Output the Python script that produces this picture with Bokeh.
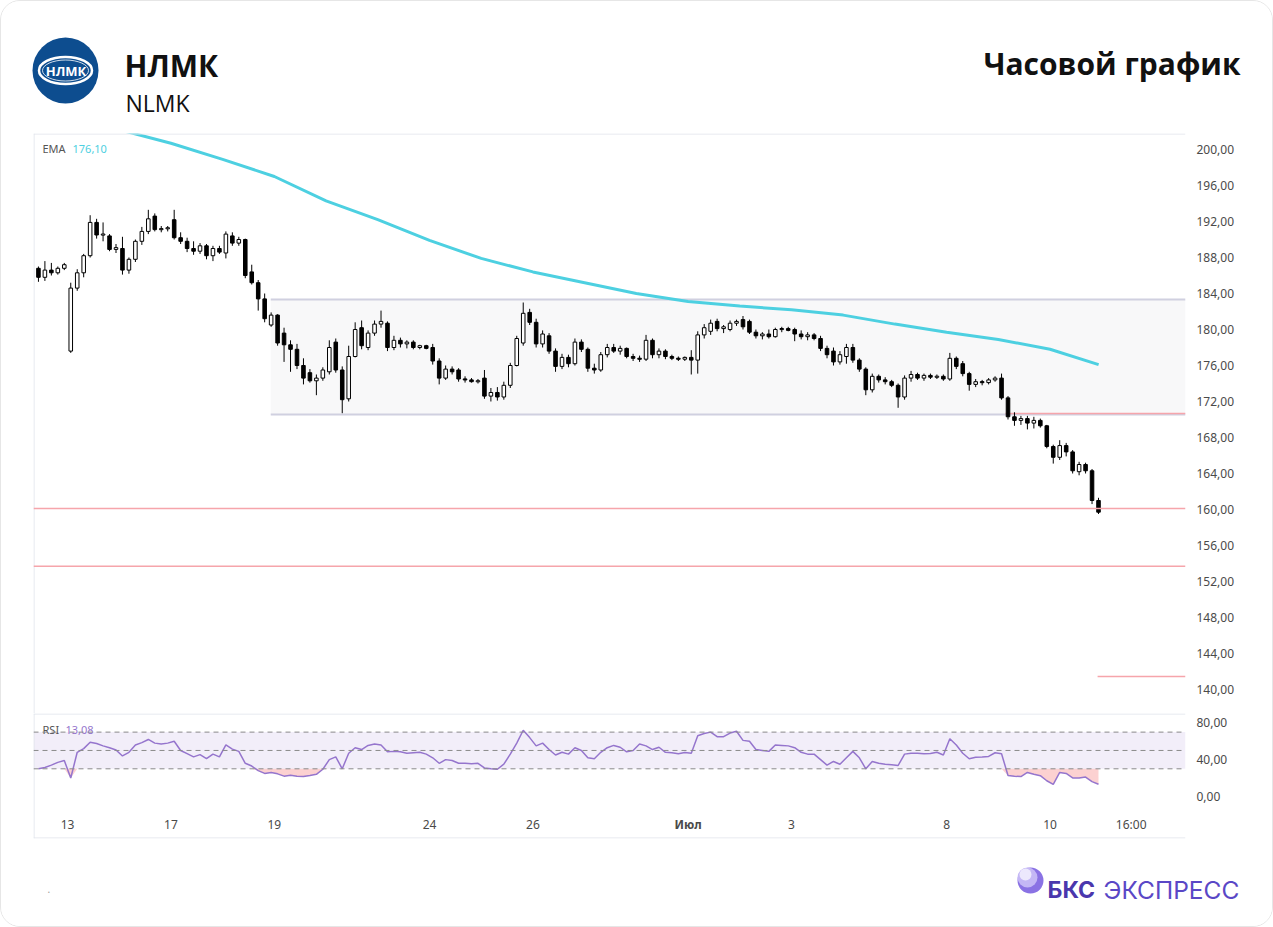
import numpy as np
from bokeh.plotting import figure
from bokeh.models import Range1d, FixedTicker, Span, ColumnDataSource
from bokeh.layouts import column
from bokeh.embed import file_html
from bokeh.resources import INLINE
from bokeh.core.properties import value

# ---------------- data ----------------
title_ru = "НЛМК"
title_en = "NLMK"
chart_kind = "Часовой график"

bars_per_day = 8          # aggregated hourly candles per session
first_day_bars = 5        # bars of the partial session before June 13

opens = [186.8, 185.8, 186.6, 186.3, 186.8, 177.6, 184.6, 186.3, 188.2, 191.9,
         190.5, 190.4, 188.9, 189.0, 186.6, 187.8, 189.8, 190.9, 192.6, 191.1,
         191.2, 192.2, 190.2, 189.8, 189.0, 188.7, 189.3, 188.2, 189.0, 188.5,
         190.4, 189.6, 190.0, 186.4, 185.2, 183.4, 180.5, 181.6, 179.6, 178.3,
         177.8, 176.0, 175.2, 174.3, 174.6, 175.3, 178.6, 175.5, 172.3, 177.0,
         180.2, 178.0, 179.6, 180.6, 180.7, 178.0, 178.8, 178.4, 178.6, 178.0,
         178.2, 178.0, 176.5, 174.6, 175.6, 175.5, 174.5, 174.4, 174.2, 174.6,
         172.6, 173.0, 172.5, 173.8, 176.0, 178.5, 181.9, 180.8, 178.4, 179.3,
         177.6, 175.9, 176.9, 176.2, 178.6, 177.8, 175.7, 175.5, 177.2, 178.0,
         177.6, 177.9, 177.0, 176.8, 176.7, 178.8, 177.2, 177.6, 177.0, 176.8,
         176.7, 176.9, 176.6, 179.4, 179.8, 180.9, 180.1, 180.0, 180.7, 181.1,
         180.9, 179.7, 179.3, 179.5, 179.2, 180.0, 180.1, 180.0, 179.5, 179.2,
         179.4, 179.0, 177.9, 177.6, 176.4, 177.0, 178.0, 176.6, 175.6, 173.3,
         174.8, 174.4, 174.2, 173.8, 172.5, 174.6, 175.0, 174.6, 174.9, 174.7,
         174.8, 174.5, 176.8, 176.2, 175.1, 173.9, 174.2, 174.1, 174.4, 174.6,
         172.4, 170.3, 169.9, 170.1, 169.6, 169.9, 169.3, 167.0, 165.8, 167.1,
         166.4, 164.2, 165.0, 164.3, 161.0]
highs = [187.0, 187.6, 187.4, 187.0, 187.4, 185.2, 186.7, 188.4, 192.7, 192.3,
         191.9, 190.6, 189.5, 190.3, 188.0, 190.0, 191.4, 193.3, 192.9, 191.5,
         191.5, 193.3, 190.8, 190.2, 189.8, 189.6, 189.5, 189.3, 189.3, 190.9,
         190.8, 190.3, 190.1, 187.2, 185.5, 184.0, 181.9, 181.7, 180.2, 178.8,
         178.4, 176.8, 175.6, 175.0, 175.8, 178.8, 179.0, 175.9, 178.2, 180.8,
         181.0, 179.9, 181.0, 182.1, 180.9, 179.3, 179.1, 178.8, 178.8, 178.3,
         178.3, 178.4, 176.8, 176.0, 175.9, 175.7, 174.8, 174.6, 174.5, 175.5,
         173.5, 173.6, 174.2, 176.3, 179.3, 183.0, 182.3, 181.2, 179.9, 179.6,
         177.9, 177.3, 177.2, 179.0, 178.9, 178.0, 176.2, 177.5, 178.4, 178.4,
         178.2, 178.0, 177.3, 177.1, 179.4, 179.0, 177.9, 177.8, 177.2, 177.0,
         177.0, 177.7, 179.8, 180.6, 181.1, 181.2, 180.5, 181.0, 181.1, 181.5,
         181.1, 180.0, 179.7, 180.0, 180.2, 180.3, 180.3, 180.2, 179.9, 179.7,
         179.6, 179.3, 178.2, 178.0, 177.6, 178.4, 178.4, 176.8, 175.8, 175.1,
         175.0, 174.7, 174.4, 174.0, 174.9, 175.4, 175.2, 175.1, 175.1, 175.0,
         175.0, 177.4, 177.0, 176.5, 175.3, 174.5, 174.4, 174.6, 174.8, 175.1,
         172.6, 170.8, 170.4, 170.4, 170.3, 170.1, 169.4, 167.2, 167.7, 167.4,
         166.6, 165.3, 165.2, 164.5, 161.3]
lows = [185.3, 185.4, 186.0, 186.1, 186.6, 177.4, 184.3, 185.8, 188.0, 190.1,
        189.8, 188.7, 188.5, 186.1, 186.2, 187.5, 189.4, 190.6, 190.9, 190.8,
        190.9, 190.0, 189.5, 188.6, 188.3, 188.4, 187.8, 187.6, 188.4, 187.9,
        189.3, 189.3, 185.7, 185.0, 182.1, 180.8, 180.3, 178.2, 176.4, 175.3,
        175.6, 173.9, 174.1, 172.7, 174.3, 175.0, 175.2, 170.7, 172.0, 176.9,
        177.8, 177.7, 179.3, 180.2, 177.6, 177.7, 178.0, 177.9, 177.8, 177.8,
        177.8, 176.1, 173.9, 174.4, 175.0, 174.2, 174.1, 174.1, 174.0, 172.3,
        172.0, 172.1, 172.2, 173.5, 175.9, 178.2, 180.5, 178.0, 178.0, 177.3,
        175.3, 175.6, 175.8, 176.0, 177.5, 175.3, 175.1, 175.3, 176.9, 177.4,
        177.2, 176.8, 176.5, 176.4, 176.5, 176.8, 176.8, 176.7, 176.6, 176.5,
        176.5, 175.0, 175.1, 179.0, 179.4, 179.8, 179.6, 179.8, 180.4, 180.0,
        179.5, 179.0, 178.9, 179.0, 179.1, 179.7, 179.8, 178.7, 178.9, 178.8,
        178.8, 177.6, 176.8, 176.0, 176.1, 176.2, 176.3, 175.3, 172.7, 173.0,
        174.1, 173.9, 173.6, 171.3, 172.2, 174.2, 174.4, 174.3, 174.5, 174.5,
        174.3, 174.3, 175.6, 174.8, 173.2, 173.6, 173.8, 173.9, 174.2, 172.2,
        170.0, 169.3, 169.4, 168.9, 169.0, 169.1, 166.8, 165.1, 165.5, 165.9,
        164.0, 163.8, 164.0, 160.6, 159.5]
closes = [185.8, 186.6, 186.3, 186.8, 187.2, 184.6, 186.3, 188.2, 191.9, 190.5,
          190.6, 188.9, 189.1, 186.6, 187.8, 189.8, 190.9, 192.3, 191.1, 191.2,
          191.3, 190.2, 189.8, 189.0, 188.7, 189.3, 188.2, 189.0, 188.6, 190.6,
          189.6, 190.0, 186.0, 185.2, 183.4, 181.2, 181.6, 178.5, 178.3, 177.8,
          176.0, 174.6, 174.3, 174.6, 175.5, 178.0, 175.5, 172.2, 177.0, 180.0,
          178.2, 179.6, 180.6, 180.9, 178.0, 178.8, 178.4, 178.6, 178.0, 178.2,
          177.9, 176.5, 174.6, 175.6, 175.3, 174.5, 174.4, 174.2, 174.3, 172.6,
          173.0, 172.5, 173.8, 176.0, 179.0, 181.8, 180.8, 178.4, 179.5, 177.6,
          175.9, 176.9, 176.2, 178.6, 177.8, 175.7, 175.5, 177.2, 178.0, 177.6,
          177.9, 177.0, 176.8, 176.7, 178.8, 177.2, 177.6, 177.0, 176.8, 176.7,
          176.9, 176.6, 179.4, 180.2, 180.7, 180.1, 180.3, 180.7, 180.9, 180.3,
          179.7, 179.3, 179.5, 179.2, 180.0, 180.1, 179.9, 179.5, 179.2, 179.4,
          179.0, 177.9, 177.2, 176.4, 177.2, 178.0, 176.6, 175.6, 173.3, 174.8,
          174.4, 174.2, 173.8, 172.5, 174.6, 175.0, 174.6, 174.9, 174.7, 174.8,
          174.5, 176.8, 175.9, 175.1, 173.9, 174.2, 174.1, 174.4, 174.6, 172.4,
          170.3, 169.9, 170.1, 169.6, 169.9, 169.3, 167.0, 165.8, 167.1, 166.4,
          164.3, 165.0, 164.3, 161.0, 159.7]

rsi = [30, 31.5, 34, 37, 39, 20, 48, 52, 59, 57.5,
       55, 53, 50.5, 44, 48, 56, 58.5, 62, 58, 57,
       58, 60, 50, 46.5, 43, 45.5, 41, 46, 43, 56,
       51.5, 49, 36, 33, 28, 25, 26, 24.5, 22, 23,
       22, 21.5, 22.7, 24, 29.5, 40, 43, 30, 47, 53,
       51, 55.5, 57, 56, 48.5, 49, 48.5, 47, 47.5, 48,
       46, 42, 36, 40, 39, 36, 36, 35.5, 36, 31,
       30, 29.5, 35, 46, 58, 72, 64, 55, 58, 51,
       45, 48, 46, 53, 50, 42, 41, 48, 53, 55.5,
       53.5, 48.5, 50, 57, 55, 51, 53.5, 48, 47.5, 46.5,
       47.8, 47, 66, 68.5, 70, 65, 65, 69, 71, 61,
       60, 51, 50, 49, 56, 55.5, 55, 53, 48, 46,
       46, 40, 34, 38, 35, 42, 49, 42, 30, 38,
       36, 35, 34.5, 33.6, 46, 47, 47, 46.5, 46.6, 48,
       45, 62.7, 56, 47, 41, 42.7, 43, 43.5, 47.5, 46.4,
       22.7, 22, 21.5, 26, 24, 22.5, 17, 13, 26, 25,
       20, 20, 21, 16, 13.1]

ema_days = [0.342, 1, 2, 3, 4, 5, 6, 7, 8, 9, 10, 11, 12, 13, 14, 15, 16, 17, 18, 19, 20, 20.94]
ema_vals = [204.6, 203.5, 202.2, 200.7, 198.9, 197.0, 194.3, 192.2, 189.9, 187.9, 186.4,
            185.2, 184.0, 183.1, 182.6, 182.2, 181.6, 180.6, 179.7, 178.9, 177.8, 176.1]
ema_last = "176,10"
rsi_last = "13,08"

tick_days = [1, 3, 5, 8, 10, 13, 15, 18, 20, 21.57]
tick_labels = ["13", "17", "19", "24", "26", "Июл", "3", "8", "10", "16:00"]
price_ticks = [140, 144, 148, 152, 156, 160, 164, 168, 172, 176, 180, 184, 188, 192, 196, 200]
rsi_ticks = [0, 40, 80]
rsi_bands = [30, 50, 70]

box_start_day = 4.93
box_top, box_bottom = 183.33, 170.56
full_levels = [160.1, 153.7]
part_level_start = [19.14, 20.92]
part_level_value = [170.67, 141.44]

# ---------------- styles / geometry ----------------
W = 1271                  # inner width of the card
X0, X1 = 0.342, 22.62
PX_PER_DAY = 51.7
PY0, PY1 = 137.33, 201.78
RY0, RY1 = -46.0, 90.3
FONT = "Noto Sans"
AX_COL = "#4a4a4a"
FRAME_COL = "#e0e3eb"
RED = "#f6a5ab"

n = len(closes)
bar_x = 1 + (np.arange(n) - first_day_bars + 0.5) / bars_per_day
o = np.array(opens); c = np.array(closes)
hi = np.array(highs); lo = np.array(lows)
b_top = np.maximum(o, c); b_bot = np.minimum(o, c)
mid = (b_top + b_bot) / 2
thin = (b_top - b_bot) < 0.12
b_top = np.where(thin, mid + 0.06, b_top)
b_bot = np.where(thin, mid - 0.06, b_bot)
up = c >= o


def style_right_axis(fig, ticks):
    fig.yaxis.ticker = FixedTicker(ticks=ticks)
    fig.yaxis.major_label_overrides = {t: f"{t:.2f}".replace(".", ",") for t in ticks}
    fig.yaxis.axis_line_color = None
    fig.yaxis.major_tick_line_color = None
    fig.yaxis.minor_tick_line_color = None
    fig.yaxis.major_tick_out = 0
    fig.yaxis.major_label_standoff = 11
    fig.yaxis.major_label_text_font = FONT
    fig.yaxis.major_label_text_font_size = "12px"
    fig.yaxis.major_label_text_color = AX_COL


# ---------------- header ----------------
h = figure(width=W, height=131, x_range=Range1d(1, 1272), y_range=Range1d(132, 1),
           toolbar_location=None, output_backend="svg", x_axis_location=None,
           y_axis_location=None, min_border=0, outline_line_color=None, frame_align=False)
h.grid.visible = False
h.circle(x=[65], y=[70], radius=33, fill_color="#0d4d8f", line_color=None)
h.ellipse(x=[65], y=[70], width=53, height=27, fill_color=None, line_color="white", line_width=2.5)
h.ellipse(x=[65], y=[70], width=46, height=21, fill_color=None, line_color="white", line_width=0.8)
h.text(x=[65.5], y=[70.5], text=[title_ru], text_align="center", text_baseline="middle",
       text_color="white", text_font=value("Open Sans"), text_font_style="bold", text_font_size="13px")
h.text(x=[124], y=[65], text=[title_ru], text_align="left", text_baseline="alphabetic",
       text_color="#111111", text_font=value("Open Sans"), text_font_style="bold", text_font_size="30px")
h.text(x=[125], y=[102], text=[title_en], text_align="left", text_baseline="alphabetic",
       text_color="#111111", text_font=value("Open Sans"), text_font_size="23px")
h.text(x=[1240], y=[63], text=[chart_kind], text_align="right", text_baseline="alphabetic",
       text_color="#111111", text_font=value("Open Sans"), text_font_style="bold", text_font_size="30px")

# ---------------- main price chart ----------------
p = figure(width=W, height=581, x_range=Range1d(X0, X1), y_range=Range1d(PY0, PY1),
           toolbar_location=None, output_backend="svg", x_axis_location=None,
           y_axis_location="right", min_border_left=32, min_border_right=87,
           min_border_top=1, min_border_bottom=0, outline_line_color=None)
p.grid.visible = False
style_right_axis(p, price_ticks)

# chart frame lines (top and left)
p.add_layout(Span(location=PY1 - 0.5 / 9, dimension="width", line_color=FRAME_COL, line_width=1))
p.add_layout(Span(location=X0 + 0.5 / PX_PER_DAY, dimension="height", line_color=FRAME_COL, line_width=1))

# consolidation box
p.quad(left=[box_start_day], right=[X1], bottom=[box_bottom], top=[box_top],
       fill_color="#f8f8f9", line_color=None)
p.segment(x0=[box_start_day, box_start_day], x1=[X1, X1], y0=[box_top, box_bottom],
          y1=[box_top, box_bottom], line_color="#d0d0e0", line_width=2)
# support levels
for lv in full_levels:
    p.add_layout(Span(location=lv, dimension="width", line_color=RED, line_width=1.5))
p.segment(x0=part_level_start, x1=[X1] * len(part_level_start), y0=part_level_value,
          y1=part_level_value, line_color=RED, line_width=1.5)

# EMA
p.line(ema_days, ema_vals, line_color="#4dd0e1", line_width=3)

# candles
src = ColumnDataSource(dict(x=bar_x, hi=hi, lo=lo))
p.segment(x0="x", x1="x", y0="lo", y1="hi", source=src, line_color="#000000", line_width=1)
up_src = ColumnDataSource(dict(x=bar_x[up], top=b_top[up], bot=b_bot[up]))
dn_src = ColumnDataSource(dict(x=bar_x[~up], top=b_top[~up], bot=b_bot[~up]))
bw = 0.55 / bars_per_day
p.vbar(x="x", top="top", bottom="bot", width=bw, source=up_src,
       fill_color="#ffffff", line_color="#000000", line_width=1)
p.vbar(x="x", top="top", bottom="bot", width=bw, source=dn_src,
       fill_color="#000000", line_color="#000000", line_width=1)

# legend texts
p.text(x=[X0 + 9 / PX_PER_DAY], y=[200.11], text=["EMA"], text_baseline="middle",
       text_font=value(FONT), text_font_size="11px", text_color="#555555")
p.text(x=[X0 + 39 / PX_PER_DAY], y=[200.11], text=[ema_last], text_baseline="middle",
       text_font=value(FONT), text_font_size="11px", text_color="#4dd0e1")

# ---------------- RSI panel ----------------
r = figure(width=W, height=126, x_range=p.x_range, y_range=Range1d(RY0, RY1),
           toolbar_location=None, output_backend="svg", x_axis_location=None,
           y_axis_location="right", min_border_left=32, min_border_right=87,
           min_border_top=0, min_border_bottom=1, outline_line_color=None)
r.grid.visible = False
style_right_axis(r, rsi_ticks)

r.add_layout(Span(location=RY1 - 0.5 * 136.3 / 125, dimension="width", line_color=FRAME_COL, line_width=1))
r.add_layout(Span(location=RY0 + 0.5 * 136.3 / 125, dimension="width", line_color=FRAME_COL, line_width=1))
r.add_layout(Span(location=X0 + 0.5 / PX_PER_DAY, dimension="height", line_color=FRAME_COL, line_width=1))

r.quad(left=[X0], right=[X1], bottom=[rsi_bands[0]], top=[rsi_bands[2]],
       fill_color="#7e57c2", fill_alpha=0.1, line_color=None)
for lv in rsi_bands:
    r.add_layout(Span(location=lv, dimension="width", line_color="#8a8a8a",
                      line_width=1, line_dash="5 4"))
rsi_arr = np.array(rsi, dtype=float)
r.varea(x=bar_x, y1=np.minimum(rsi_arr, rsi_bands[0]), y2=rsi_bands[0],
        fill_color="#f77b7b", fill_alpha=0.35)
r.line(bar_x, rsi_arr, line_color="#9575cd", line_width=1.5)
r.text(x=[X0 + 9 / PX_PER_DAY], y=[72.8], text=["RSI"], text_baseline="middle",
       text_font=value(FONT), text_font_size="11px", text_color="#555555")
r.text(x=[X0 + 32 / PX_PER_DAY], y=[72.8], text=[rsi_last], text_baseline="middle",
       text_font=value(FONT), text_font_size="11px", text_color="#9575cd")

# time axis labels
styles = ["bold" if not t[0].isdigit() else "normal" for t in tick_labels]
r.text(x="x", y="y", text="t", text_font_style="s",
       source=ColumnDataSource(dict(x=tick_days, y=[-30.8] * len(tick_days), t=tick_labels, s=styles)),
       text_align="center", text_baseline="middle", text_font=value(FONT),
       text_font_size="12px", text_color=AX_COL)

# ---------------- footer ----------------
f = figure(width=W, height=87, x_range=Range1d(1, 1272), y_range=Range1d(926, 839),
           toolbar_location=None, output_backend="svg", x_axis_location=None,
           y_axis_location=None, min_border=0, outline_line_color=None, frame_align=False)
f.grid.visible = False
f.text(x=[47], y=[888], text=["."], text_color="#9a9a9a", text_font=value(FONT),
       text_font_size="10px", text_baseline="alphabetic")
f.circle(x=[1030], y=[880], radius=13, fill_color="#8a72e4", line_color=None)
f.circle(x=[1027], y=[877], radius=10, fill_color="#c4b7f5", line_color=None)
f.circle(x=[1025], y=[874], radius=6, fill_color="#ece8fd", line_color=None)
f.text(x=[1047], y=[889], text=["БКС"], text_color="#4a37ad", text_font=value("Inter"),
       text_font_style="bold", text_font_size="23px", text_baseline="alphabetic")
f.text(x=[1103], y=[889], text=["ЭКСПРЕСС"], text_color="#5a47c6", text_font=value("Inter"),
       text_font_size="24.5px", text_baseline="alphabetic")

page = column(h, p, r, f, spacing=0,
              styles={"border": "1px solid #e6e6e6", "border-radius": "20px", "overflow": "hidden"})
open("out.html", "w").write(file_html(page, INLINE))
